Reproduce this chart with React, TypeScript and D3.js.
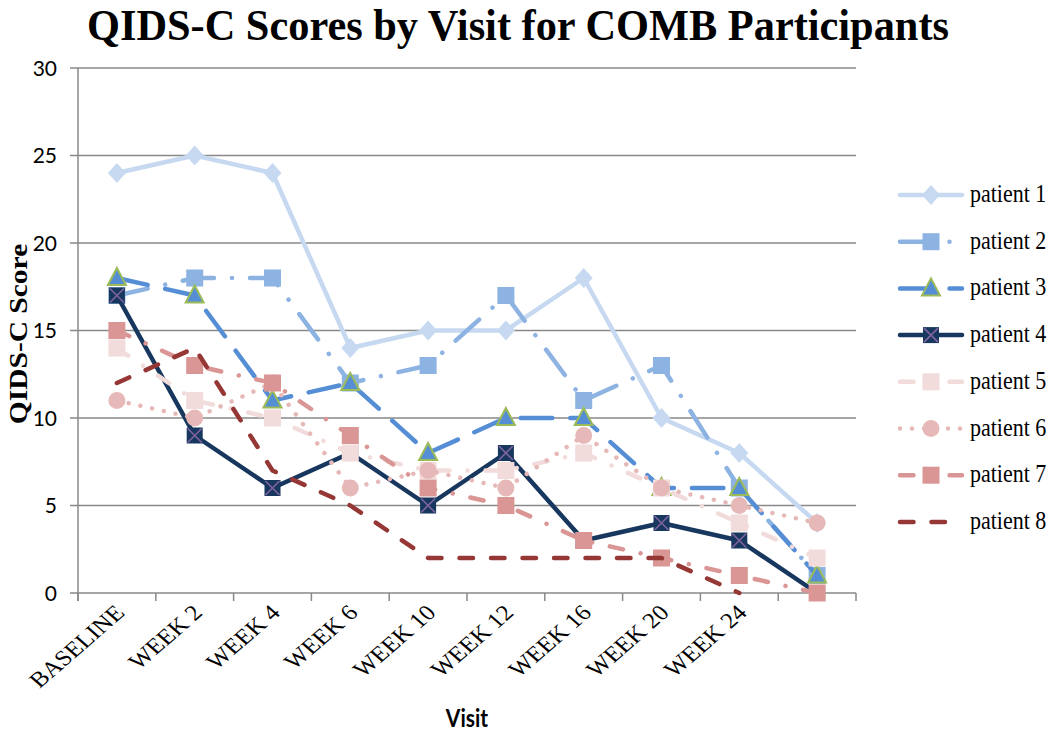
import React from "react";
import * as d3 from "d3";

const categories = ["BASELINE", "WEEK 2", "WEEK 4", "WEEK 6", "WEEK 10", "WEEK 12", "WEEK 16", "WEEK 20", "WEEK 24", ""];
const seriesNames = ["patient 1", "patient 2", "patient 3", "patient 4", "patient 5", "patient 6", "patient 7", "patient 8"];
const patient1 = [24, 25, 24, 14, 15, 15, 18, 10, 8, 4];
const patient2 = [17, 18, 18, 12, 13, 17, 11, 13, 6, 1];
const patient3 = [18, 17, 11, 12, 8, 10, 10, 6, 6, 1];
const patient4 = [17, 9, 6, 8, 5, 8, 3, 4, 3, 0];
const patient5 = [14, 11, 10, 8, 7, 7, 8, 6, 4, 2];
const patient6 = [11, 10, 12, 6, 7, 6, 9, 6, 5, 4];
const patient7 = [15, 13, 12, 9, 6, 5, 3, 2, 1, 0];
const patient8: (number | null)[] = [12, 14, 7, 5, 2, 2, 2, 2, 0, null];
const yTicks = [0, 5, 10, 15, 20, 25, 30];

const W = 1050, H = 737;
const S = 1.18; // vertical text stretch

type Style = { color: string; dash: string; marker: string; mfill: string; mstroke?: string; xcolor?: string };
const styles: Style[] = [
  { color: "#C6D9F1", dash: "none", marker: "diamond", mfill: "#C6D9F1" },
  { color: "#8DB3E2", dash: "31.5,18,0.01,18", marker: "square", mfill: "#8DB3E2" },
  { color: "#558ED5", dash: "31.5,18", marker: "triangle", mfill: "#558ED5", mstroke: "#9BBB59" },
  { color: "#17375E", dash: "none", marker: "xsquare", mfill: "#17375E", xcolor: "#8064A2" },
  { color: "#F2DCDB", dash: "13.5,18,0.01,18", marker: "square", mfill: "#F2DCDB" },
  { color: "#E6B9B8", dash: "0.01,12", marker: "circle", mfill: "#E6B9B8" },
  { color: "#D99694", dash: "13.5,18,0.01,18", marker: "square", mfill: "#D99694" },
  { color: "#953735", dash: "13.5,18", marker: "none", mfill: "#953735" },
];
const allSeries = [patient1, patient2, patient3, patient4, patient5, patient6, patient7, patient8];

function Marker({ x, y, st }: { x: number; y: number; st: Style }) {
  switch (st.marker) {
    case "diamond":
      return <polygon points={`${x},${y - 10} ${x + 9},${y} ${x},${y + 10} ${x - 9},${y}`} fill={st.mfill} />;
    case "square":
      return <rect x={x - 8.5} y={y - 8.5} width={17} height={17} fill={st.mfill} />;
    case "triangle":
      return <polygon points={`${x},${y - 10} ${x + 9},${y + 7} ${x - 9},${y + 7}`} fill={st.mfill} stroke={st.mstroke} strokeWidth={2} strokeLinejoin="miter" />;
    case "xsquare":
      return (
        <g>
          <rect x={x - 8} y={y - 8} width={16} height={16} fill={st.mfill} />
          <path d={`M${x - 7},${y - 7}L${x + 7},${y + 7}M${x + 7},${y - 7}L${x - 7},${y + 7}`} stroke={st.xcolor} strokeWidth={1.6} />
        </g>
      );
    case "circle":
      return <circle cx={x} cy={y} r={8.5} fill={st.mfill} />;
    default:
      return null;
  }
}

export default function App() {
  const x = d3.scaleBand<string>().domain(categories.map((c, i) => String(i))).range([78, 856]).paddingInner(0).paddingOuter(0);
  const y = d3.scaleLinear().domain([0, 30]).range([593, 68]);
  const cx = (i: number) => (x(String(i)) as number) + x.bandwidth() / 2;
  const line = d3
    .line<number | null>()
    .defined((d) => d !== null)
    .x((_, i) => cx(i))
    .y((d) => y(d as number));
  const grid = "#898989";
  const legendY = (i: number) => 195 + i * 46.7;

  return (
    <svg width={W} height={H} style={{ display: "block", position: "absolute", left: 0, top: 0 }}>
      <rect width={W} height={H} fill="#fff" />
      {/* title */}
      <text
        transform={`translate(518,40) scale(1,1.1)`}
        textAnchor="middle"
        fontFamily="'Liberation Serif', 'Times New Roman', serif"
        fontWeight="bold"
        fontSize={40}
        textLength={862}
        lengthAdjust="spacingAndGlyphs"
        fill="#000"
      >
        QIDS-C Scores by Visit for COMB Participants
      </text>
      {/* gridlines */}
      {yTicks.map((t) => (
        <line key={t} x1={70} x2={856} y1={y(t)} y2={y(t)} stroke={grid} strokeWidth={1.5} />
      ))}
      <line x1={78} x2={78} y1={68} y2={601} stroke={grid} strokeWidth={1.5} />
      {d3.range(categories.length + 1).map((i) => {
        const xx = 78 + i * x.bandwidth();
        return <line key={i} x1={xx} x2={xx} y1={593} y2={601} stroke={grid} strokeWidth={1.5} />;
      })}
      {yTicks.map((t) => (
        <text key={t} x={57} y={y(t) + 7.5} textAnchor="end" fontFamily="Lato, 'Open Sans', sans-serif" fontSize={21} fill="#000">
          {t}
        </text>
      ))}
      {/* x labels */}
      {categories.map((c, i) =>
        c ? (
          <text
            key={i}
            transform={`translate(${cx(i) + 9},${614}) scale(1.15,1) rotate(-45)`}
            textAnchor="end"
            fontFamily="'Liberation Serif', 'Times New Roman', serif"
            fontSize={22}
            fill="#000"
          >
            {c}
          </text>
        ) : null
      )}
      <text
        transform={`translate(467,727) scale(1,${S})`}
        textAnchor="middle"
        fontFamily="Lato, 'Open Sans', sans-serif"
        fontWeight="bold"
        fontSize={21}
        fill="#000"
      >
        Visit
      </text>
      <text
        transform={`translate(27,334) scale(1,${S}) rotate(-90)`}
        textAnchor="middle"
        fontFamily="'Liberation Serif', 'Times New Roman', serif"
        fontWeight="bold"
        fontSize={25}
        fill="#000"
      >
        QIDS-C Score
      </text>
      {/* series */}
      {allSeries.map((data, si) => {
        const st = styles[si];
        return (
          <g key={si}>
            <path d={line(data as (number | null)[]) || ""} fill="none" stroke={st.color} strokeWidth={4.5} strokeDasharray={st.dash} strokeLinecap="round" strokeLinejoin="round" />
            {(data as (number | null)[]).map((d, i) => (d === null ? null : <Marker key={i} x={cx(i)} y={y(d)} st={st} />))}
          </g>
        );
      })}
      {/* legend */}
      {seriesNames.map((n, i) => {
        const st = styles[i];
        const ly = legendY(i);
        return (
          <g key={n}>
            <line x1={900} x2={962} y1={ly} y2={ly} stroke={st.color} strokeWidth={4.5} strokeDasharray={st.dash} strokeLinecap="round" />
            <Marker x={931} y={ly} st={st} />
            <text
              transform={`translate(970,${ly + 7}) scale(1,${S})`}
              fontFamily="'Liberation Serif', 'Times New Roman', serif"
              fontSize={22}
              fill="#000"
            >
              {n}
            </text>
          </g>
        );
      })}
    </svg>
  );
}
